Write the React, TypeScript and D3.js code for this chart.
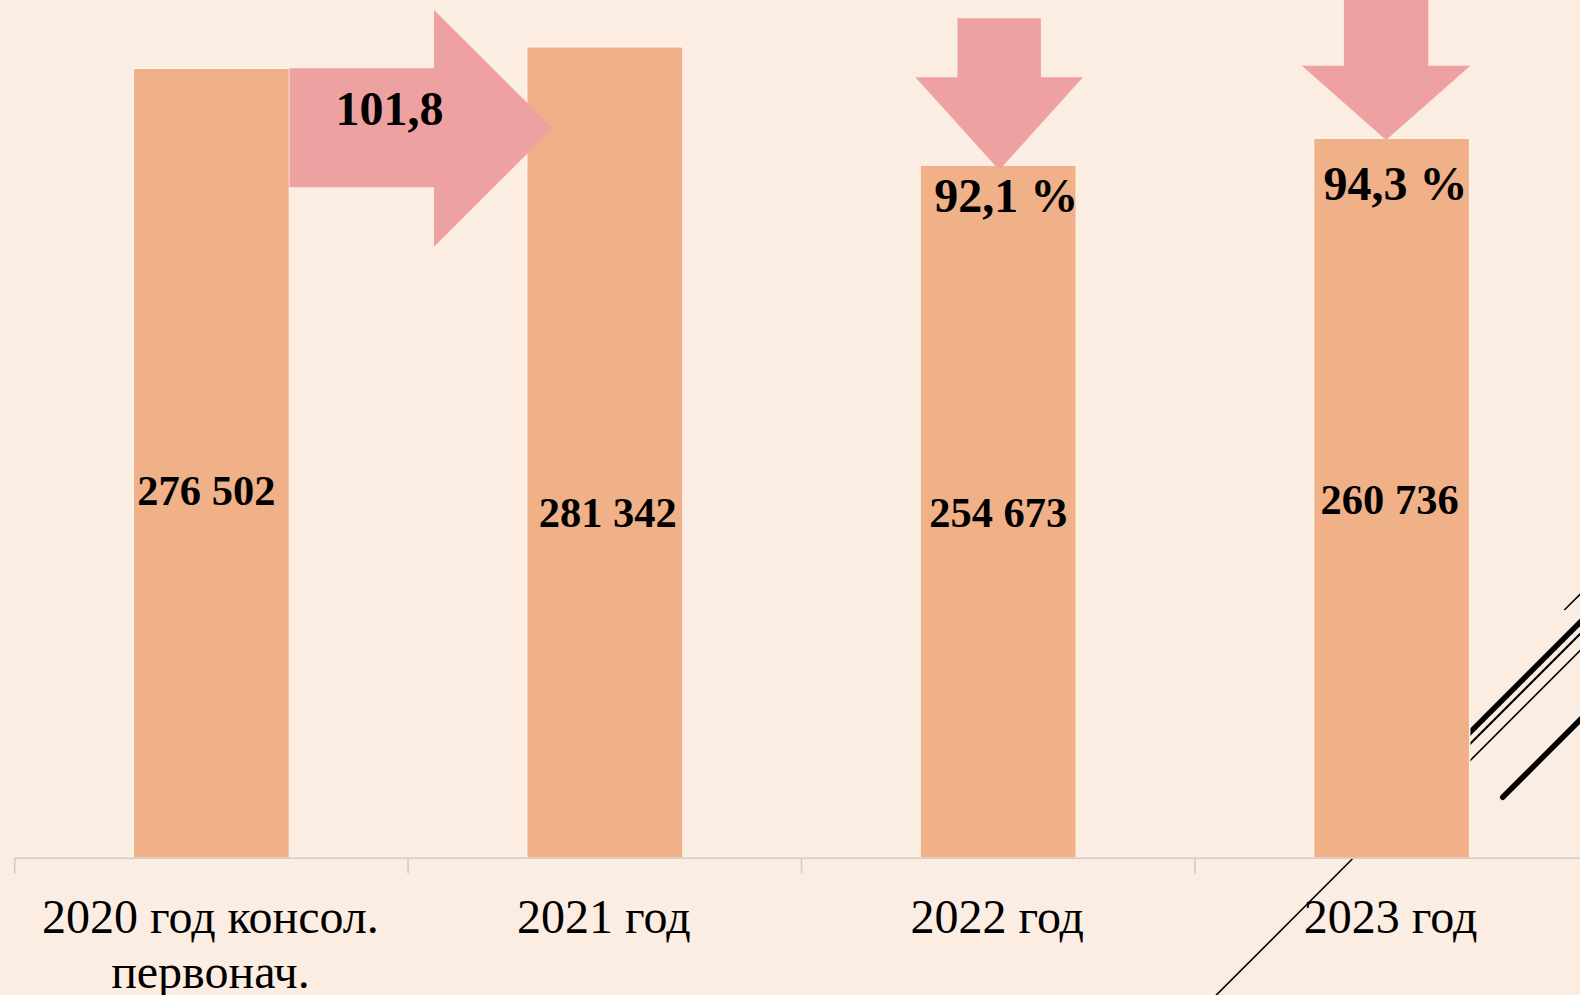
import React from 'react';
import * as d3 from 'd3';

// ---- data ----
const categories = ['2020', '2021', '2022', '2023'];
const categoryLabels = [['2020 год консол.', 'первонач.'], ['2021 год'], ['2022 год'], ['2023 год']];
const values = [276502, 281342, 254673, 260736];
const changeLabels = ['101,8', '92,1 %', '94,3 %'];

// ---- layout / style ----
const W = 1580;
const H = 995;
const BASE = 858.3;
const X0 = 14.7;
const STEP = 393.4;
const BG = '#FCEDE2';
const BAR = '#F0B188';
const ARROW = '#EEA1A1';
const FONT = '"Liberation Serif", "Times New Roman", serif';
const labelDy = [505, 527, 527, 514];
const labelDx = [-5, 3, 0, -2];

const ru = d3.formatLocale({ decimal: ',', thousands: ' ', grouping: [3], currency: ['', ''] });
const fmt = ru.format(',d');

export default function App() {
  const x = d3
    .scaleBand<string>()
    .domain(categories)
    .range([X0, X0 + STEP * categories.length])
    .paddingInner(0.603)
    .paddingOuter(0.3015);
  const slope = 0.0044358;
  const yMin = 98400;
  const yMax = 300000;
  const y = d3.scaleLinear().domain([yMin, yMax]).range([BASE, BASE - slope * (yMax - yMin)]);
  const bw = x.bandwidth();
  const cx = (i: number) => (x(categories[i]) as number) + bw / 2;

  // right arrow between bar 1 and bar 2
  const a1x0 = (x(categories[0]) as number) + bw;
  const a1xh = 434;
  const a1tip = (x(categories[1]) as number) + 26;
  const a1sT = y(values[0]);
  const a1sB = 187.3;
  const a1hT = 10;
  const a1hB = 246.7;
  const a1mid = (a1hT + a1hB) / 2;
  const arrow1 = [
    [a1x0, a1sT], [a1xh, a1sT], [a1xh, a1hT], [a1tip, a1mid],
    [a1xh, a1hB], [a1xh, a1sB], [a1x0, a1sB],
  ];

  const downArrow = (c: number, sh: number, hh: number, top: number, hs: number, tip: number) => [
    [c - sh, top], [c + sh, top], [c + sh, hs], [c + hh, hs], [c, tip],
    [c - hh, hs], [c - sh, hs],
  ];
  const arrow2 = downArrow(cx(2) + 1, 41.7, 83.8, 18.3, 77.3, y(values[2]) + 5);
  const arrow3 = downArrow(cx(3) - 5.5, 42.2, 84.2, -20, 65.7, y(values[3]) + 1.7);
  const pts = (p: number[][]) => p.map((d) => d.join(',')).join(' ');

  const ticks = d3.range(categories.length + 1).map((i) => X0 + i * STEP);

  return (
    <div style={{ position: 'fixed', left: 0, top: 0, width: W, height: H, background: BG }}>
      <svg width={W} height={H} style={{ display: 'block' }}>
        <rect x={0} y={0} width={W} height={H} fill={BG} />
        {/* decorative lines */}
        <g stroke="#000" fill="none">
          <line x1={1353} y1={858.3} x2={1216} y2={995.3} strokeWidth={1.6} />
          <line x1={1460} y1={742.4} x2={1600} y2={602.4} strokeWidth={5.5} />
          <line x1={1460} y1={754} x2={1600} y2={614} strokeWidth={2} />
          <line x1={1460} y1={770.7} x2={1600} y2={630.7} strokeWidth={1.6} />
          <line x1={1564.3} y1={610} x2={1600} y2={574.3} strokeWidth={1.6} />
          <line x1={1502.7} y1={797.3} x2={1600} y2={700} strokeWidth={5.5} strokeLinecap="round" />
        </g>
        {/* bars */}
        {values.map((v, i) => (
          <rect
            key={i}
            x={x(categories[i])}
            y={y(v)}
            width={bw}
            height={BASE - y(v)}
            fill={BAR}
            stroke="#FDF1E8"
            strokeWidth={1.5}
          />
        ))}
        {/* axis */}
        <line x1={X0} y1={BASE} x2={W} y2={BASE} stroke="#D2CBC7" strokeWidth={1.6} />
        {ticks.map((t, i) => (
          <line key={i} x1={t} y1={BASE} x2={t} y2={BASE + 15} stroke="#D2CBC7" strokeWidth={1.6} />
        ))}
        {/* arrows */}
        <polygon points={pts(arrow1)} fill={ARROW} />
        <polygon points={pts(arrow2)} fill={ARROW} />
        <polygon points={pts(arrow3)} fill={ARROW} />
        {/* value labels */}
        {values.map((v, i) => (
          <text
            key={i}
            x={cx(i) + labelDx[i]}
            y={labelDy[i]}
            textAnchor="middle"
            fontFamily={FONT}
            fontWeight="bold"
            fontSize={42.5}
            fill="#000"
          >
            {fmt(v)}
          </text>
        ))}
        {/* change labels */}
        <text x={389.5} y={125} textAnchor="middle" fontFamily={FONT} fontWeight="bold" fontSize={48} fill="#000">
          {changeLabels[0]}
        </text>
        <text x={cx(2) + 8} y={212.3} textAnchor="middle" fontFamily={FONT} fontWeight="bold" fontSize={48} fill="#000">
          {changeLabels[1]}
        </text>
        <text x={cx(3) + 4} y={200} textAnchor="middle" fontFamily={FONT} fontWeight="bold" fontSize={48} fill="#000">
          {changeLabels[2]}
        </text>
        {/* category labels */}
        {categoryLabels.map((lines, i) => (
          <text key={i} textAnchor="middle" fontFamily={FONT} fontSize={48} fill="#000">
            {lines.map((l, j) => (
              <tspan key={j} x={cx(i) - 1} y={932.7 + j * 55.3}>
                {l}
              </tspan>
            ))}
          </text>
        ))}
      </svg>
    </div>
  );
}
